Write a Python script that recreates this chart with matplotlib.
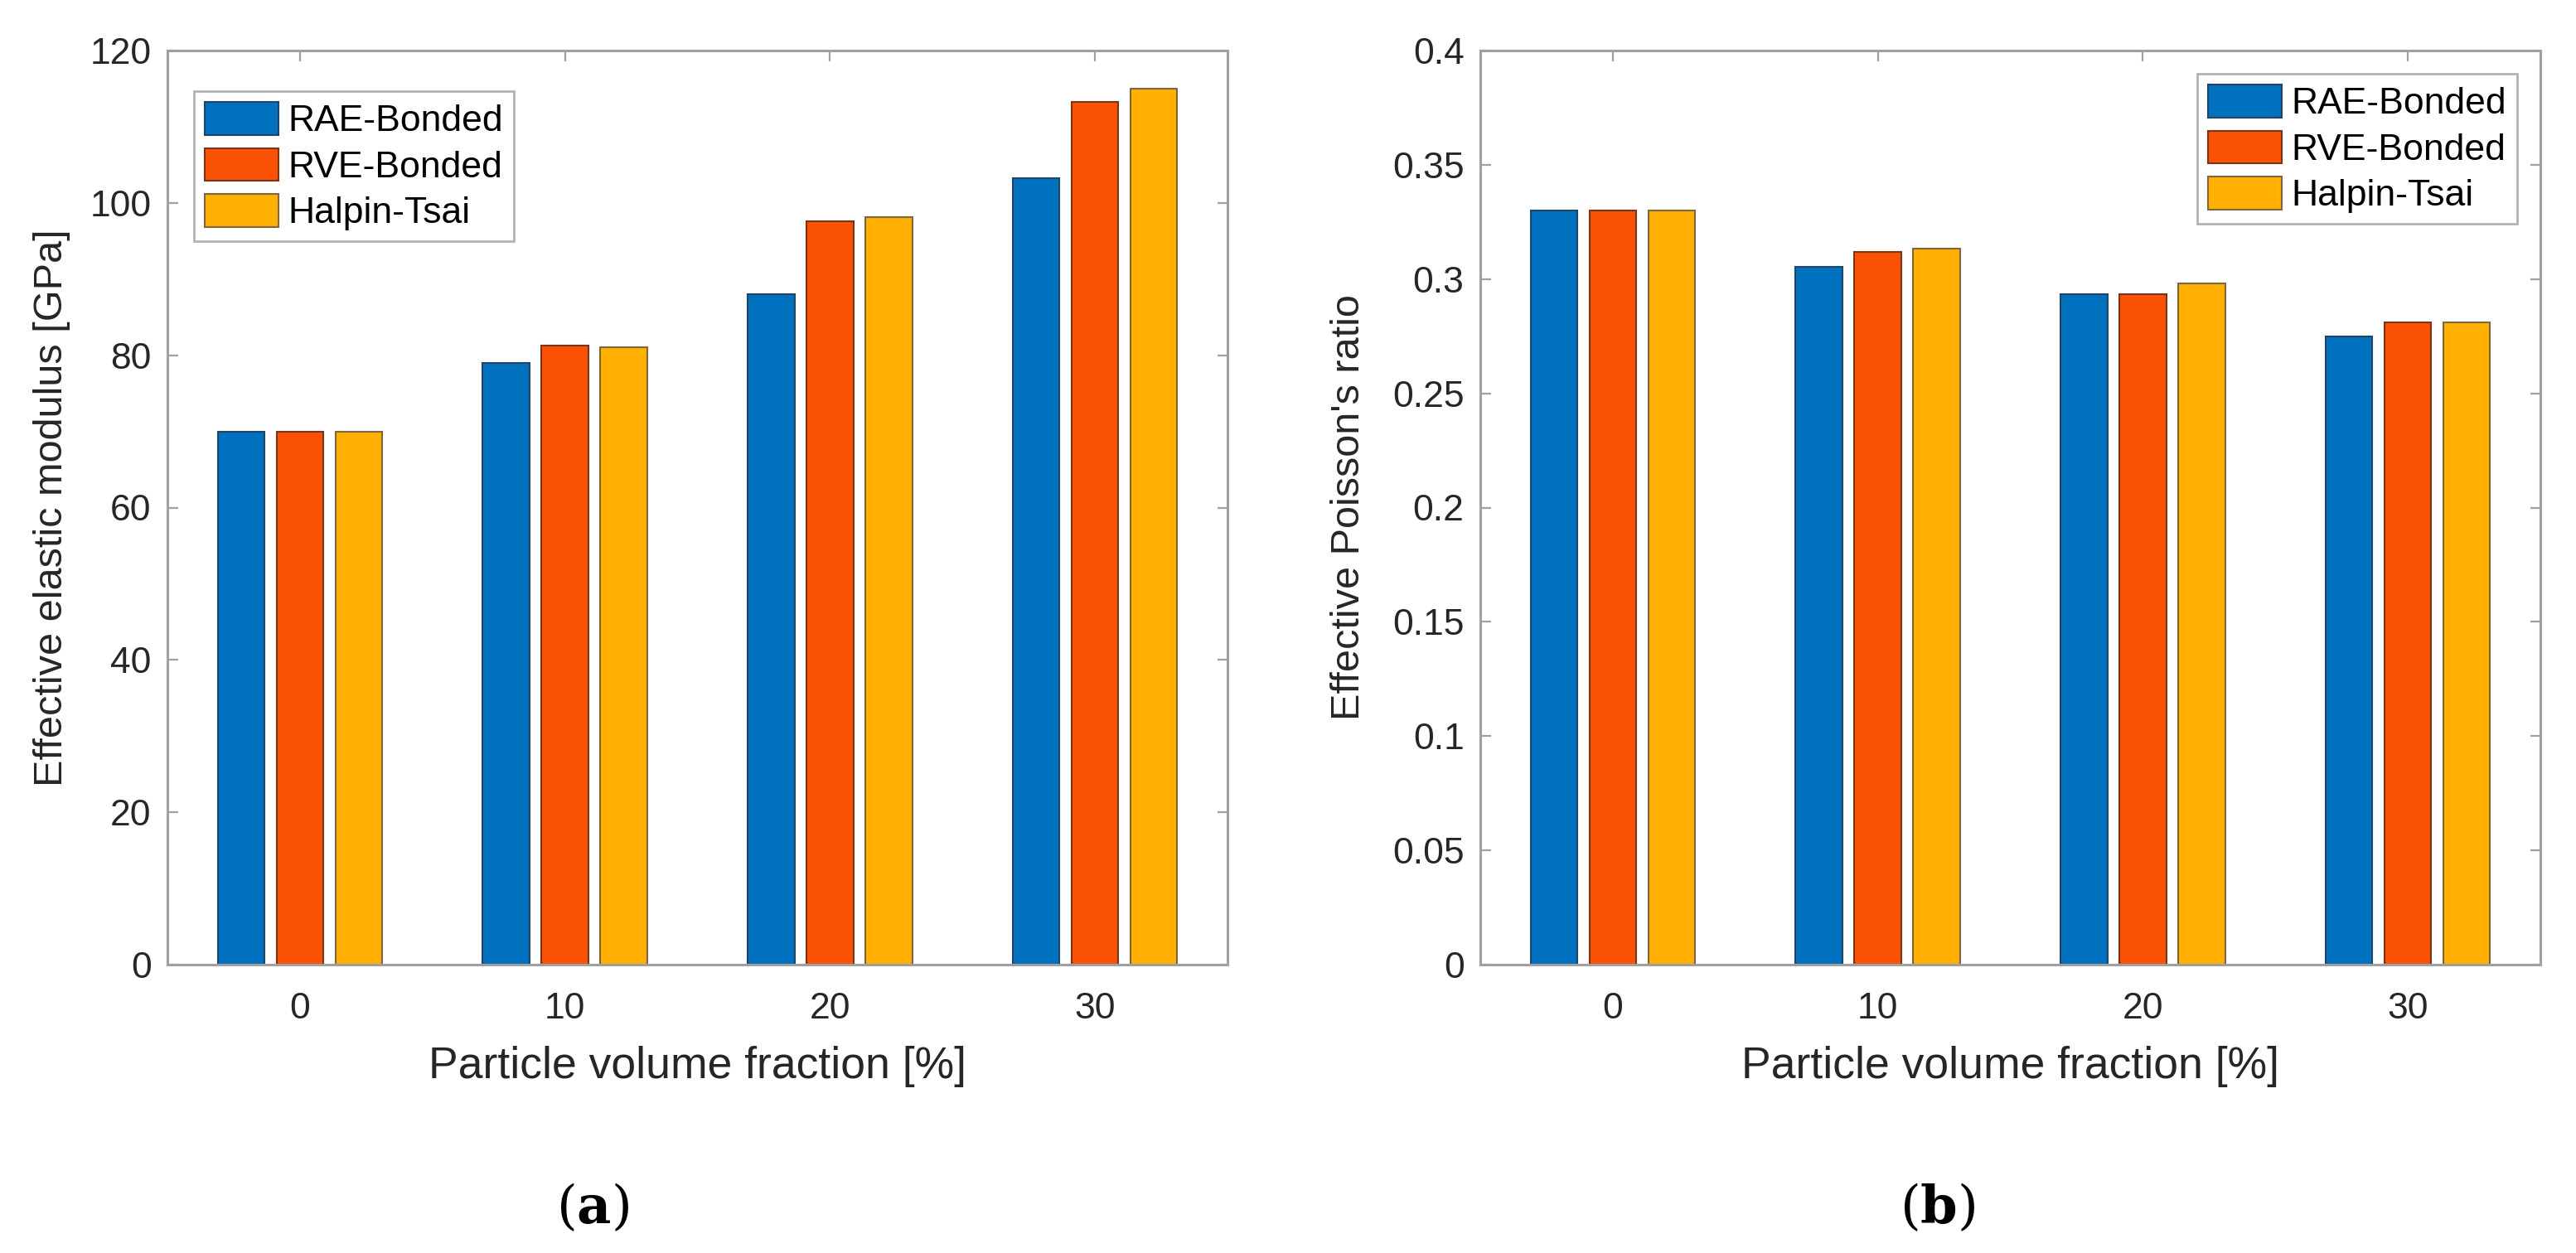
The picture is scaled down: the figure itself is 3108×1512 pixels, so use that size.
import matplotlib
matplotlib.use("Agg")
import matplotlib.pyplot as plt
import numpy as np

plt.rcParams['font.family'] = ['Liberation Sans', 'DejaVu Sans']
plt.rcParams['mathtext.fontset'] = 'dejavuserif'

fractions = [0, 10, 20, 30]
series = ["RAE-Bonded", "RVE-Bonded", "Halpin-Tsai"]

# effective elastic modulus [GPa]
E_rae = [70.0, 79.0, 88.0, 103.3]
E_rve = [70.0, 81.3, 97.6, 113.3]
E_ht = [70.0, 81.0, 98.1, 115.0]

# effective Poisson's ratio
nu_rae = [0.330, 0.3055, 0.2933, 0.275]
nu_rve = [0.330, 0.312, 0.2933, 0.281]
nu_ht = [0.330, 0.3133, 0.298, 0.281]

colors = ['#0071BF', '#FC5206', '#FFB000']
edges = ['#1F4466', '#7A3518', '#7F6640']

W, H = 3108, 1512
fig = plt.figure(figsize=(W / 100, H / 100), dpi=100)

def px_axes(x0, x1, y0, y1):
    return fig.add_axes([x0 / W, (H - y1) / H, (x1 - x0) / W, (y1 - y0) / H])

ax1 = px_axes(202, 1481, 61, 1164)
ax2 = px_axes(1786, 3065, 61, 1164)

leg_anchor = {'upper left': (32 / 1279, 1 - 49 / 1103),
              'upper right': (1 - 28 / 1279, 1 - 28 / 1103)}

def draw(ax, data, ylim, yticks, yticklabels, ylabel, ylab_dx, leg_loc):
    x = np.arange(len(fractions))
    offs = [-0.222, 0.0, 0.222]
    for i, vals in enumerate(data):
        ax.bar(x + offs[i], vals, width=0.177, color=colors[i], edgecolor=edges[i],
               linewidth=1.5, label=series[i], zorder=2)
    ax.set_xlim(-0.5, 3.5)
    ax.set_ylim(*ylim)
    ax.set_xticks(x)
    ax.set_xticklabels([str(f) for f in fractions])
    ax.set_yticks(yticks)
    ax.set_yticklabels(yticklabels)
    for s in ax.spines.values():
        s.set_color('#A0A0A0')
        s.set_linewidth(2.2)
        s.set_zorder(3)
    ax.tick_params(direction='in', length=9, width=1.6, color='#A0A0A0',
                   top=True, right=True, labelsize=32, labelcolor='#262626')
    ax.tick_params(axis='x', pad=24)
    ax.tick_params(axis='y', pad=14)
    ax.set_xlabel("Particle volume fraction [%]", fontsize=38.5, color='#262626')
    ax.set_ylabel(ylabel, fontsize=35, color='#262626')
    ax.xaxis.set_label_coords(0.5, -123 / 1103)
    ax.xaxis.label.set_va('center')
    ax.yaxis.set_label_coords(-ylab_dx / 1279, 0.5)
    ax.yaxis.label.set_va('center')
    leg = ax.legend(loc=leg_loc, fontsize=32, frameon=True, fancybox=False,
                    edgecolor='#A0A0A0', handlelength=2.0, handleheight=1.0,
                    handletextpad=0.25, borderpad=0.3, labelspacing=0.25,
                    borderaxespad=0.0, bbox_to_anchor=leg_anchor[leg_loc],
                    bbox_transform=ax.transAxes)
    leg.get_frame().set_linewidth(2.0)

draw(ax1, [E_rae, E_rve, E_ht], (0, 120), np.arange(0, 121, 20),
     [str(v) for v in range(0, 121, 20)], "Effective elastic modulus [GPa]", 139, 'upper left')

nu_ticks = np.round(np.arange(0, 0.4001, 0.05), 2)
nu_labels = ['0', '0.05', '0.1', '0.15', '0.2', '0.25', '0.3', '0.35', '0.4']
draw(ax2, [nu_rae, nu_rve, nu_ht], (0, 0.4), nu_ticks, nu_labels,
     "Effective Poisson's ratio", 158, 'upper right')

# panel tags: plain parens, bold serif letter
for xc, lab in [(715, 'a'), (2338, 'b')]:
    fig.text(xc / W, 1 - 1458 / H, r'($\mathbf{' + lab + r'}$)', fontsize=46,
             ha='center', va='center', family='DejaVu Serif')

fig.savefig("out.png", dpi=100, facecolor='white')
